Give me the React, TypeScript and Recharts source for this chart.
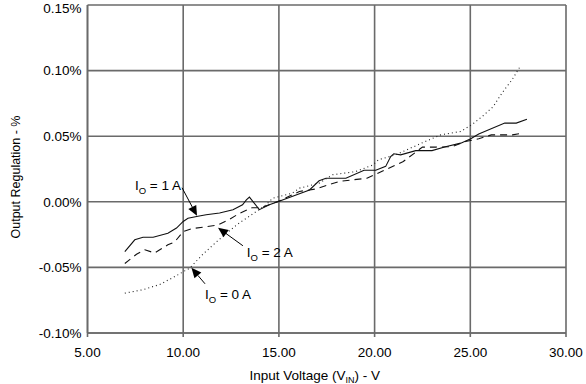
import React from 'react';
import { LineChart, Line, XAxis, YAxis, CartesianGrid, ReferenceLine, ReferenceDot } from 'recharts';

const xTicks = [5, 10, 15, 20, 25, 30];
const yTicks = [-0.1, -0.05, 0, 0.05, 0.1, 0.15];

// I_O = 1 A (solid)
const io1V = [6.95, 7.47, 7.9, 8.43, 9.2, 9.65, 10.0, 10.25, 10.77, 11.2, 11.9, 12.6, 13.1, 13.3, 13.46, 13.98, 14.5, 14.94, 16.6, 17.1, 17.46, 18.5, 19.45, 20.06, 20.58, 20.84, 21.0, 21.36, 22.15, 23.0, 23.7, 24.5, 25.0, 25.44, 26.8, 27.4, 27.96];
const io1R = [-0.038, -0.029, -0.027, -0.027, -0.024, -0.02, -0.015, -0.0125, -0.011, -0.0099, -0.0086, -0.006, -0.0023, 0.0015, 0.0036, -0.006, -0.0023, 0.0, 0.009, 0.016, 0.018, 0.018, 0.024, 0.024, 0.027, 0.0345, 0.0366, 0.0358, 0.039, 0.039, 0.042, 0.0447, 0.0478, 0.0516, 0.06, 0.06, 0.063];

// I_O = 2 A (dashed)
const io2V = [6.95, 7.56, 8.0, 8.5, 9.2, 9.56, 10.0, 10.45, 11.2, 11.8, 12.4, 12.94, 13.6, 14.07, 14.7, 15.0, 16.07, 16.9, 18.15, 19.6, 20.2, 21.5, 22.5, 23.2, 24.05, 24.75, 25.44, 26.1, 27.2, 27.6];
const io2R = [-0.047, -0.04, -0.0366, -0.039, -0.0328, -0.0305, -0.0226, -0.0205, -0.019, -0.0178, -0.0135, -0.0088, -0.0045, -0.0045, -0.001, 0.0005, 0.0079, 0.0097, 0.0155, 0.018, 0.022, 0.0307, 0.0417, 0.0417, 0.042, 0.046, 0.048, 0.051, 0.051, 0.052];

// I_O = 0 A (dotted)
const io0V = [6.95, 7.9, 8.78, 9.56, 10.34, 11.03, 11.55, 12.25, 12.94, 13.46, 14.33, 14.68, 15.7, 16.07, 17.1, 17.8, 19.0, 19.9, 20.2, 21.1, 22.5, 23.45, 24.5, 25.1, 25.7, 26.2, 26.66, 27.18, 27.6];
const io0R = [-0.0696, -0.067, -0.063, -0.057, -0.0505, -0.04, -0.033, -0.024, -0.016, -0.011, -0.0023, 0.0028, 0.0066, 0.0104, 0.0142, 0.0206, 0.023, 0.028, 0.032, 0.0358, 0.045, 0.051, 0.0536, 0.059, 0.066, 0.0726, 0.083, 0.093, 0.103];

// annotations
const labelNames = ['1 A', '2 A', '0 A'];
const labelV = [7.48, 13.32, 11.14];
const labelR = [0.0091, -0.0422, -0.0742];
const arrowFromV = [9.94, 13.12, 11.14];
const arrowFromR = [0.0107, -0.0335, -0.0625];
const arrowToV = [10.72, 11.82, 10.43];
const arrowToR = [-0.0107, -0.0198, -0.0503];

const toPts = (vs: number[], rs: number[]) => vs.map((v, i) => ({ v, r: rs[i] }));
const io1 = toPts(io1V, io1R);
const io2 = toPts(io2V, io2R);
const io0 = toPts(io0V, io0R);

const FONT = '"Liberation Sans", Arial, Helvetica, sans-serif';
const GRID = '#6a6a6a';

const ArrowShape = (p: any) => {
  const { x1, y1, x2, y2 } = p;
  const dx = x2 - x1;
  const dy = y2 - y1;
  const len = Math.hypot(dx, dy) || 1;
  const ux = dx / len;
  const uy = dy / len;
  const hl = 10;
  const hw = 4.5;
  const bx = x2 - ux * hl;
  const by = y2 - uy * hl;
  const pts = `${x2},${y2} ${bx - uy * hw},${by + ux * hw} ${bx + uy * hw},${by - ux * hw}`;
  return (
    <g>
      <line x1={x1} y1={y1} x2={bx} y2={by} stroke="#000" strokeWidth={1} />
      <polygon points={pts} fill="#000" />
    </g>
  );
};

const makeLabel = (name: string) => (p: any) => (
  <text x={p.cx} y={p.cy} fontFamily={FONT} fontSize={13.5} fill="#000">
    <tspan>I</tspan>
    <tspan dy={4} fontSize={9.5}>O</tspan>
    <tspan dy={-4}>{` = ${name}`}</tspan>
  </text>
);

const XTitle = (p: any) => {
  const vb = p.viewBox || {};
  const cx = vb.x + vb.width / 2 - 12;
  const y = vb.y + 46.5;
  return (
    <text x={cx} y={y} textAnchor="middle" fontFamily={FONT} fontSize={13.5} fill="#000">
      <tspan>Input Voltage (V</tspan>
      <tspan dy={3} fontSize={9}>IN</tspan>
      <tspan dy={-3}>) - V</tspan>
    </text>
  );
};

const YTitle = (p: any) => {
  const vb = p.viewBox || {};
  const x = (vb.x || 0) + 20;
  const y = 177;
  return (
    <text x={x} y={y} transform={`rotate(-90, ${x}, ${y})`} textAnchor="middle" fontFamily={FONT} fontSize={12.5} fill="#000">
      Output Regulation - %
    </text>
  );
};

export default function App() {
  return (
    <div style={{ position: 'absolute', left: 0, top: 0, width: 586, height: 384, background: '#fff' }}>
      <LineChart width={586} height={384} margin={{ top: 5, right: 20, bottom: 0, left: 0 }}>
        <CartesianGrid stroke={GRID} strokeWidth={1.6} />
        <XAxis
          type="number"
          dataKey="v"
          domain={[5, 30]}
          ticks={xTicks}
          tickFormatter={(v: number) => v.toFixed(2)}
          height={51}
          tickSize={4}
          tickMargin={10}
          stroke={GRID}
          strokeWidth={1.6}
          tick={{ fill: '#000', fontSize: 13.5, fontFamily: FONT }}
          allowDataOverflow
          label={{ content: XTitle }}
        />
        <YAxis
          type="number"
          domain={[-0.1, 0.15]}
          ticks={yTicks}
          tickFormatter={(v: number) => `${v.toFixed(2)}%`}
          width={87.5}
          tickLine={false}
          tickSize={0}
          tickMargin={6}
          stroke={GRID}
          strokeWidth={1.6}
          tick={{ fill: '#000', fontSize: 13.5, fontFamily: FONT }}
          allowDataOverflow
          label={{ content: YTitle }}
        />
        <Line data={io1} dataKey="r" type="linear" stroke="#111" strokeWidth={1.1} dot={false} isAnimationActive={false} />
        <Line data={io2} dataKey="r" type="linear" stroke="#111" strokeWidth={1.1} strokeDasharray="7 5" dot={false} isAnimationActive={false} />
        <Line data={io0} dataKey="r" type="linear" stroke="#222" strokeWidth={1.1} strokeDasharray="1 3" dot={false} isAnimationActive={false} />
        {labelNames.map((n, i) => (
          <ReferenceLine
            key={`a${i}`}
            segment={[{ x: arrowFromV[i], y: arrowFromR[i] }, { x: arrowToV[i], y: arrowToR[i] }]}
            shape={ArrowShape}
            ifOverflow="visible"
          />
        ))}
        {labelNames.map((n, i) => (
          <ReferenceDot key={`l${i}`} x={labelV[i]} y={labelR[i]} r={0} shape={makeLabel(n)} ifOverflow="visible" />
        ))}
      </LineChart>
    </div>
  );
}
